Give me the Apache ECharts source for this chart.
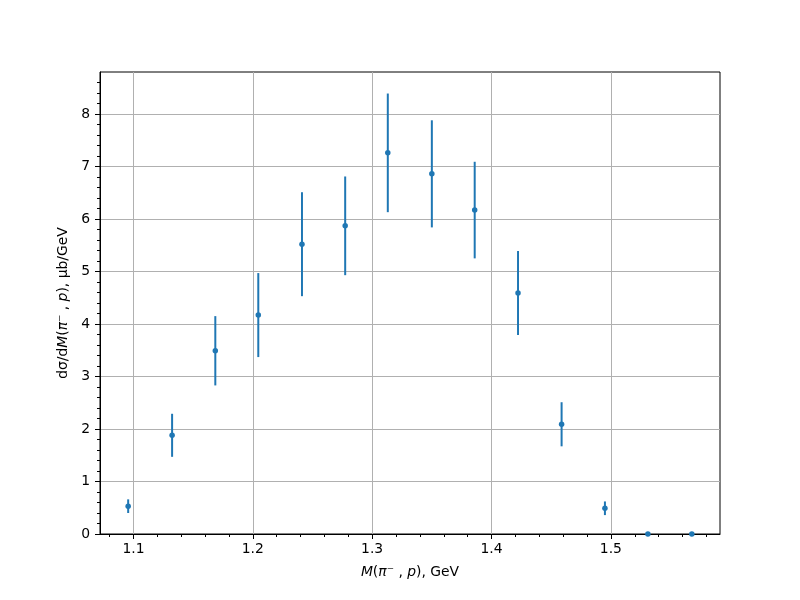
<!DOCTYPE html>
<html>
<head>
<meta charset="utf-8">
<script src="https://cdn.jsdelivr.net/npm/echarts@6/dist/echarts.min.js"></script>
<style>html,body{margin:0;padding:0;background:#fff}#c{width:800px;height:600px}</style>
</head>
<body>
<div id="c"></div>
<script>
// Data
const massGeV = [1.0956, 1.1324, 1.1686, 1.2046, 1.2412, 1.2774, 1.3131, 1.3500, 1.3859, 1.4222, 1.4587, 1.4950, 1.5310, 1.5678];
const dsigma  = [0.53, 1.88, 3.49, 4.17, 5.52, 5.87, 7.26, 6.86, 6.17, 4.59, 2.09, 0.49, 0.0, 0.0];
const errors  = [0.13, 0.41, 0.66, 0.80, 0.99, 0.94, 1.13, 1.02, 0.92, 0.80, 0.42, 0.13, 0.0, 0.0];
const xMajorTicks = [1.1, 1.2, 1.3, 1.4, 1.5];
const xMinorTicks = [1.08, 1.12, 1.14, 1.16, 1.18, 1.22, 1.24, 1.26, 1.28, 1.32, 1.34, 1.36, 1.38, 1.42, 1.44, 1.46, 1.48, 1.52, 1.54, 1.56, 1.58];
const yMajorTicks = [0, 1, 2, 3, 4, 5, 6, 7, 8];
const yMinorTicks = [0.2, 0.4, 0.6, 0.8, 1.2, 1.4, 1.6, 1.8, 2.2, 2.4, 2.6, 2.8, 3.2, 3.4, 3.6, 3.8,
  4.2, 4.4, 4.6, 4.8, 5.2, 5.4, 5.6, 5.8, 6.2, 6.4, 6.6, 6.8, 7.2, 7.4, 7.6, 7.8, 8.2, 8.4, 8.6];

const X_MIN = 1.0720, X_MAX = 1.5914, Y_MIN = 0, Y_MAX = 8.8;
const COLOR = '#1f77b4';
const FONT = 'DejaVu Sans';

const chart = echarts.init(document.getElementById('c'), null, {renderer: 'canvas'});

const points = massGeV.map((m, i) => [m, dsigma[i]]);
const bars = massGeV.map((m, i) => [m, dsigma[i] - errors[i], dsigma[i] + errors[i]]);

const option = {
  animation: false,
  backgroundColor: '#fff',
  grid: {left: 100, right: 80, top: 72, bottom: 66, show: true, borderColor: '#000', borderWidth: 1, backgroundColor: 'transparent'},
  xAxis: [
    {
      type: 'value', min: X_MIN, max: X_MAX, position: 'bottom',
      name: '{i|M}{n|(}{i|π}{n|⁻ , }{i|p}{n|), GeV}',
      nameLocation: 'middle', nameGap: 31,
      nameTextStyle: {rich: {
        i: {fontFamily: FONT, fontSize: 13.9, fontStyle: 'italic', color: '#000'},
        n: {fontFamily: FONT, fontSize: 13.9, color: '#000'}
      }},
      axisLine: {show: true, onZero: false, lineStyle: {color: '#000', width: 1}},
      axisTick: {show: true, inside: false, length: 5, lineStyle: {color: '#000', width: 1}, customValues: xMajorTicks},
      axisLabel: {show: true, margin: 8, color: '#000', fontFamily: FONT, fontSize: 13.9, customValues: xMajorTicks,
        formatter: v => v.toFixed(1)},
      splitLine: {show: true, lineStyle: {color: '#b0b0b0', width: 1}}
    },
    {
      type: 'value', min: X_MIN, max: X_MAX, position: 'bottom',
      axisLine: {show: false},
      axisTick: {show: true, inside: false, length: 3, lineStyle: {color: '#000', width: 1}, customValues: xMinorTicks},
      axisLabel: {show: false},
      splitLine: {show: false}
    }
  ],
  yAxis: [
    {
      type: 'value', min: Y_MIN, max: Y_MAX, interval: 1, position: 'left',
      name: '{n|dσ/d}{i|M}{n|(}{i|π}{n|⁻ , }{i|p}{n|), μb/GeV}',
      nameLocation: 'middle', nameGap: 28, nameRotate: 90,
      nameTextStyle: {rich: {
        i: {fontFamily: FONT, fontSize: 13.9, fontStyle: 'italic', color: '#000'},
        n: {fontFamily: FONT, fontSize: 13.9, color: '#000'}
      }},
      axisLine: {show: true, onZero: false, lineStyle: {color: '#000', width: 1}},
      axisTick: {show: true, inside: false, length: 5, lineStyle: {color: '#000', width: 1}, customValues: yMajorTicks},
      axisLabel: {show: true, margin: 10, color: '#000', fontFamily: FONT, fontSize: 13.9, customValues: yMajorTicks},
      splitLine: {show: true, lineStyle: {color: '#b0b0b0', width: 1}}
    },
    {
      type: 'value', min: Y_MIN, max: Y_MAX, position: 'left',
      axisLine: {show: false},
      axisTick: {show: true, inside: false, length: 3, lineStyle: {color: '#000', width: 1}, customValues: yMinorTicks},
      axisLabel: {show: false},
      splitLine: {show: false}
    }
  ],
  series: [
    {
      type: 'custom',
      xAxisIndex: 0, yAxisIndex: 0,
      data: bars,
      renderItem: function (params, api) {
        const x = api.value(0);
        const p1 = api.coord([x, api.value(1)]);
        const p2 = api.coord([x, api.value(2)]);
        return {
          type: 'line',
          shape: {x1: p1[0], y1: p1[1], x2: p2[0], y2: p2[1]},
          style: {stroke: COLOR, lineWidth: 2}
        };
      },
      clip: false,
      z: 3
    },
    {
      type: 'scatter',
      xAxisIndex: 0, yAxisIndex: 0,
      data: points,
      symbol: 'circle', symbolSize: 5.5,
      itemStyle: {color: COLOR, opacity: 1},
      clip: false,
      z: 4
    }
  ]
};
chart.setOption(option);
</script>
</body>
</html>
